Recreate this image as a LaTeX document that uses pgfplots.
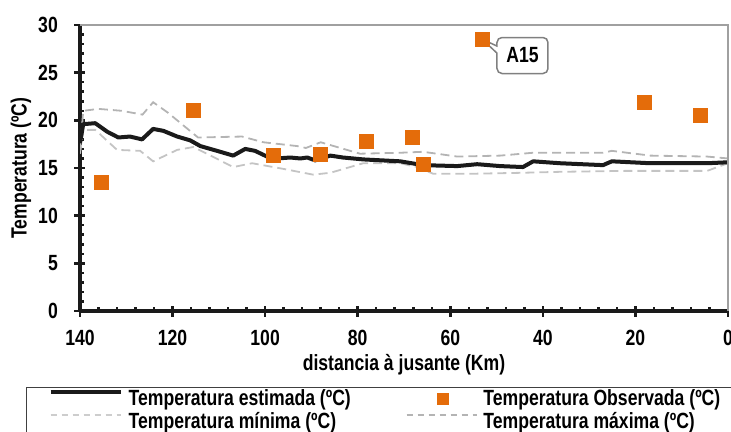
\documentclass[border=0pt]{standalone}
\usepackage{pgfplots}
\usepackage{pgfplotstable}
\pgfplotsset{compat=1.18}
\usepackage{fontspec}
\setmainfont{Liberation Sans}[FakeStretch=0.8]
\usetikzlibrary{shapes.callouts}

\definecolor{obsorange}{HTML}{E46C0A}
\definecolor{mingray}{HTML}{C4C4C4}
\definecolor{maxgray}{HTML}{B4B4B4}
\definecolor{framegray}{HTML}{A0A0A0}
\definecolor{axisblack}{HTML}{1A1A1A}

\newcommand{\chartfont}{\fontsize{22bp}{24bp}\selectfont\bfseries}

% distance downstream (km) and temperature (degC)
\pgfplotstableread{
km     T
140.0  17.6
139.3  19.6
136.7  19.7
134.1  18.8
131.7  18.2
129.2  18.3
126.6  18.0
124.2  19.1
122.0  18.9
119.0  18.3
116.2  17.9
114.0  17.3
110.4  16.8
106.9  16.3
104.3  17.0
102.2  16.8
99.6   16.2
97.4   16.0
94.6   16.1
92.4   16.0
90.9   16.1
89.2   15.8
85.9   16.3
83.2   16.1
78.8   15.9
70.8   15.7
65.9   15.3
58.5   15.2
54.2   15.4
49.2   15.2
44.3   15.1
42.1   15.7
36.3   15.5
27.0   15.3
25.1   15.7
16.8   15.5
4.5    15.5
0.0    15.6
}\estimada

\pgfplotstableread{
km     T
140.0  16.5
139.3  19.0
136.7  19.0
132.0  16.9
127.0  16.8
124.2  15.7
119.0  16.9
115.5  17.2
113.0  16.6
106.9  15.1
102.8  15.5
96.0   14.9
89.6   14.3
85.9   14.5
78.8   15.5
70.8   15.5
67.2   15.1
63.7   14.4
55.0   14.4
44.3   14.5
36.3   14.6
21.8   14.7
4.5    14.7
0.0    15.5
}\minima

\pgfplotstableread{
km     T
140.0  16.8
139.3  21.0
136.0  21.2
131.0  21.0
126.5  20.6
124.2  21.9
121.0  20.8
114.5  18.2
105.0  18.3
100.4  17.7
93.1   17.3
91.2   17.1
88.0   17.7
79.5   16.5
70.8   16.6
65.9   16.7
58.5   16.2
49.2   16.3
42.1   16.6
27.0   16.6
25.1   16.8
16.8   16.3
4.5    16.2
0.0    16.0
}\maxima

\pgfplotstableread{
km     T
135.4  13.5
115.5  21.0
98.1   16.3
88.1   16.4
78.2   17.8
68.2   18.2
65.7   15.4
53.1   28.5
18.1   21.9
5.9    20.5
}\observada

\begin{document}
\begin{tikzpicture}
\path[use as bounding box] (0,0) rectangle (731bp,432bp);
\begin{axis}[
  at={(80bp,121bp)}, anchor=south west,
  scale only axis, width=648bp, height=286bp,
  xmin=-140, xmax=0, ymin=0, ymax=30,
  axis lines*=left,
  axis line style={axisblack, line width=3bp},
  xtick={-140,-120,-100,-80,-60,-40,-20,0},
  xticklabels={140,120,100,80,60,40,20,0},
  ytick={0,5,10,15,20,25,30},
  yticklabels={0,5,10,15,20,25,30},
  minor x tick num=4,
  minor y tick num=4,
  tick align=inside,
  major tick length=11bp,
  minor tick length=4.5bp,
  tick style={axisblack, line width=2.5bp},
  every major x tick/.append style={yshift=-5.5bp},
  every major y tick/.append style={xshift=-5.5bp},
  xticklabel style={font=\chartfont, anchor=north, inner sep=0pt, yshift=-19bp},
  yticklabel style={font=\chartfont, anchor=east, inner sep=0pt, xshift=-22bp},
  every axis x label/.style={at={(axis description cs:0.5,-0.188)}, anchor=center, font=\chartfont},
  every axis y label/.style={at={(axis description cs:-0.091,0.5)}, anchor=center, rotate=90, font=\chartfont},
  xlabel={distancia à jusante (Km)},
  ylabel={Temperatura (ºC)},
  legend columns=2,
  legend cell align=left,
  legend image code/.code={\draw[#1] (0bp,8bp) -- (70bp,8bp);},
  legend style={
    at={(axis description cs:-0.0833,-0.2657)}, anchor=north west,
    draw=black!75, line width=1.2bp, fill=white,
    inner xsep=22bp, inner ysep=2bp,
    font=\chartfont,
    nodes={inner sep=0pt, text height=16bp, text depth=5bp},
    row sep=2bp,
    /tikz/every odd column/.append style={column sep=6bp},
    /tikz/every even column/.append style={column sep=55bp},
  },
  after end axis/.code={
    \draw[framegray, line width=2bp] (rel axis cs:0,1) -- (rel axis cs:1,1) -- (rel axis cs:1,0);
  },
]
% envelope of minimum and maximum temperature
\addplot[mingray, line width=1.8bp, dash pattern=on 9bp off 5bp, forget plot]
  table[x expr=-\thisrow{km}, y=T] {\minima};
\addplot[maxgray, line width=1.8bp, dash pattern=on 9bp off 5bp, forget plot]
  table[x expr=-\thisrow{km}, y=T] {\maxima};
% modelled temperature
\addplot[axisblack, line width=4bp, line join=round]
  table[x expr=-\thisrow{km}, y=T] {\estimada};
\addlegendentry{Temperatura estimada (ºC)}
% observed stations
\addplot[only marks, mark=square*, mark size=7bp,
  mark options={draw=obsorange, fill=obsorange, line width=0pt},
  legend image code/.code={\path[draw=none] (0bp,8bp) -- (70bp,8bp); \fill[obsorange, draw=none] (30bp,-5bp) rectangle (42bp,7bp);}]
  table[x expr=-\thisrow{km}, y=T] {\observada};
\addlegendentry{Temperatura Observada (ºC)}
\addlegendimage{mingray!85, line width=1.5bp, dash pattern=on 6bp off 5bp}
\addlegendentry{Temperatura mínima (ºC)}
\addlegendimage{maxgray, line width=1.5bp, dash pattern=on 6bp off 5bp}
\addlegendentry{Temperatura máxima (ºC)}
% station label
\node[rectangle callout, rounded corners=5bp, draw=gray, line width=1.5bp, fill=white,
  minimum width=51bp, minimum height=36bp, inner sep=0pt, font=\chartfont,
  callout absolute pointer={(axis cs:-53.1,28.5)}]
  at (axis cs:-44.4,26.8) {A15};
\end{axis}
\end{tikzpicture}
\end{document}
